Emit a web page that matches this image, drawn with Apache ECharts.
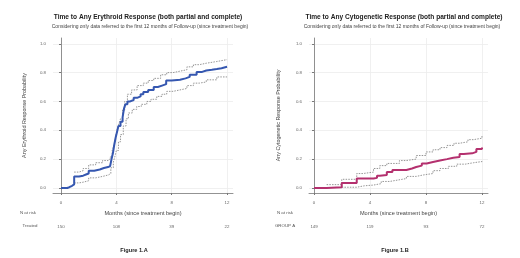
<!DOCTYPE html>
<html>
<head>
<meta charset="utf-8">
<script src="https://cdn.jsdelivr.net/npm/echarts@6/dist/echarts.min.js"></script>
<style>
  html, body { margin: 0; padding: 0; background: #fff; }
  #main { width: 520px; height: 258px; }
</style>
</head>
<body>
<div id="main"></div>
<script>
var chartDom = document.getElementById('main');
var myChart = echarts.init(chartDom);

var monthTicks = [0, 4, 8, 12];
var probTicks = [0, 0.2, 0.4, 0.6, 0.8, 1.0];

// Figure 1.A - erythroid response (months, probability)
var eryMain = [[0, 0], [0.45, 0.005], [0.6, 0.015], [0.8, 0.025], [0.95, 0.08], [1.3, 0.085], [1.6, 0.095], [1.85, 0.1], [2.0, 0.12], [2.4, 0.128], [2.8, 0.138], [3.1, 0.145], [3.4, 0.152], [3.55, 0.16], [3.65, 0.2], [3.75, 0.24], [3.85, 0.3], [3.95, 0.35], [4.05, 0.39], [4.15, 0.43], [4.3, 0.46], [4.45, 0.49], [4.55, 0.55], [4.65, 0.58], [4.8, 0.6], [5.0, 0.61], [5.25, 0.625], [5.5, 0.635], [5.75, 0.65], [5.95, 0.665], [6.3, 0.68], [6.7, 0.7], [7.0, 0.71], [7.3, 0.72], [7.6, 0.745], [8.0, 0.75], [8.6, 0.76], [9.0, 0.77], [9.3, 0.785], [9.8, 0.805], [10.2, 0.815], [10.5, 0.82], [10.9, 0.825], [11.26, 0.83], [11.6, 0.84], [12, 0.84]];
var eryUpper = [[0.95, 0.11], [1.3, 0.12], [1.6, 0.135], [2.0, 0.16], [2.5, 0.175], [3.0, 0.19], [3.4, 0.2], [3.55, 0.215], [3.7, 0.26], [3.8, 0.29], [3.9, 0.33], [4.0, 0.38], [4.1, 0.42], [4.2, 0.45], [4.3, 0.48], [4.45, 0.54], [4.6, 0.6], [4.8, 0.65], [5.1, 0.68], [5.5, 0.71], [5.95, 0.727], [6.3, 0.745], [6.7, 0.76], [7.2, 0.785], [7.64, 0.8], [8.1, 0.81], [8.6, 0.82], [9.1, 0.84], [9.57, 0.855], [10.0, 0.865], [10.5, 0.877], [11.26, 0.89], [12, 0.893]];
var eryLower = [[0.95, 0.035], [1.3, 0.04], [1.6, 0.05], [2.0, 0.07], [2.5, 0.08], [3.0, 0.09], [3.42, 0.1], [3.6, 0.14], [3.78, 0.18], [3.9, 0.22], [4.0, 0.26], [4.15, 0.32], [4.3, 0.37], [4.5, 0.43], [4.7, 0.48], [4.87, 0.52], [5.15, 0.545], [5.47, 0.565], [5.8, 0.58], [6.2, 0.6], [6.5, 0.615], [6.92, 0.635], [7.3, 0.65], [7.64, 0.67], [8.1, 0.68], [8.6, 0.69], [9.1, 0.71], [9.57, 0.727], [10.0, 0.735], [10.5, 0.75], [11.26, 0.77], [12, 0.77]];
var eryAtRisk = ['150', '108', '39', '22'];

// Figure 1.B - cytogenetic response
var cytoMain = [[0, 0], [0.9, 0.005], [1.98, 0.035], [3.05, 0.065], [4.25, 0.07], [4.5, 0.085], [4.7, 0.09], [5.2, 0.11], [5.6, 0.125], [6.6, 0.135], [7.0, 0.145], [7.3, 0.155], [7.7, 0.17], [8.05, 0.18], [8.5, 0.19], [9.0, 0.2], [9.5, 0.21], [9.95, 0.215], [10.4, 0.235], [10.7, 0.24], [11.3, 0.25], [11.6, 0.27], [12, 0.28]];
var cytoUpper = [[0.9, 0.023], [1.98, 0.06], [3.05, 0.1], [3.5, 0.11], [4.25, 0.135], [4.7, 0.155], [5.2, 0.17], [6.1, 0.19], [6.6, 0.2], [7.3, 0.225], [8.0, 0.25], [8.5, 0.265], [9.0, 0.28], [9.5, 0.295], [10.0, 0.31], [10.4, 0.32], [11.0, 0.335], [11.4, 0.345], [12, 0.36]];
var cytoLower = [[1.98, 0.005], [3.05, 0.015], [3.6, 0.02], [4.25, 0.03], [4.8, 0.045], [5.4, 0.055], [6.0, 0.065], [6.6, 0.08], [7.3, 0.09], [7.8, 0.1], [8.5, 0.12], [9.0, 0.135], [9.6, 0.15], [10.2, 0.165], [10.8, 0.175], [11.4, 0.183], [12, 0.19]];
var cytoAtRisk = ['149', '119', '93', '72'];

var FONT = 'Liberation Sans, Arial, sans-serif';
var gridColor = '#ececec';

function xAxisFor(gridIndex, min) {
  return {
    type: 'value',
    gridIndex: gridIndex,
    min: min,
    max: 12.43,
    name: 'Months (since treatment begin)',
    nameLocation: 'middle',
    nameGap: 17,
    nameTextStyle: { fontFamily: FONT, fontSize: 5.6, color: '#444' },
    axisLine: { onZero: false, lineStyle: { color: '#777', width: 0.8 } },
    axisTick: { customValues: monthTicks, length: 2, lineStyle: { color: '#777' } },
    axisLabel: { customValues: monthTicks, fontFamily: FONT, fontSize: 4.4, color: '#666', margin: 8 },
    splitLine: { show: true, lineStyle: { color: gridColor, width: 0.8 } }
  };
}

function riskAxisFor(gridIndex, min, labels) {
  return {
    type: 'value',
    gridIndex: gridIndex,
    position: 'bottom',
    offset: 24,
    min: min,
    max: 12.43,
    axisLine: { show: false },
    axisTick: { show: false },
    splitLine: { show: false },
    axisLabel: {
      customValues: monthTicks,
      fontFamily: FONT, fontSize: 4.4, color: '#666',
      formatter: function (v) { return labels[monthTicks.indexOf(v)]; }
    }
  };
}

function yAxisFor(gridIndex, name, gap) {
  return {
    type: 'value',
    gridIndex: gridIndex,
    min: -0.035,
    max: 1.04,
    name: name,
    nameLocation: 'middle',
    nameGap: gap,
    nameTextStyle: { fontFamily: FONT, fontSize: 5.4, color: '#444' },
    axisLine: { show: true, lineStyle: { color: '#777', width: 0.8 } },
    axisTick: { show: true, customValues: probTicks, length: 2, lineStyle: { color: '#777' } },
    axisLabel: {
      customValues: probTicks, fontFamily: FONT, fontSize: 4.4, color: '#666', margin: 7,
      formatter: function (v) { return v.toFixed(1); }
    },
    splitLine: { show: true, lineStyle: { color: gridColor, width: 0.8 } }
  };
}

function curve(data, xi, color, width) {
  return {
    type: 'line', step: 'end', xAxisIndex: xi, yAxisIndex: xi,
    data: data, symbol: 'none', silent: true, animation: false,
    lineStyle: { color: color, width: width }
  };
}
function ci(data, xi) {
  return {
    type: 'line', step: 'end', xAxisIndex: xi, yAxisIndex: xi,
    data: data, symbol: 'none', silent: true, animation: false,
    lineStyle: { color: '#8a8a8a', width: 0.9, type: [1.5, 1.2] }
  };
}

function txt(text, x, y, size, bold, color) {
  return {
    type: 'text', x: x, y: y, silent: true,
    style: {
      text: text, align: 'center', verticalAlign: 'middle',
      font: (bold ? 'bold ' : '') + size + 'px ' + FONT,
      fill: color || '#222'
    }
  };
}

option = {
  backgroundColor: '#fff',
  animation: false,
  grid: [
    { left: 53, top: 38, width: 180, height: 155 },
    { left: 309, top: 38, width: 179, height: 155 }
  ],
  xAxis: [
    xAxisFor(0, -0.58),
    xAxisFor(1, -0.36),
    riskAxisFor(0, -0.58, eryAtRisk),
    riskAxisFor(1, -0.36, cytoAtRisk)
  ],
  yAxis: [
    yAxisFor(0, 'Any Erythroid Response Probability', 26),
    yAxisFor(1, 'Any Cytogenetic Response Probability', 28)
  ],
  graphic: [
    txt('Time to Any Erythroid Response (both partial and complete)', 148, 17, 6.6, true, '#222'),
    txt('Considering only data referred to the first 12 months of Follow-up (since treatment begin)', 150, 27, 5, false, '#444'),
    txt('Time to Any Cytogenetic Response (both partial and complete)', 404, 17, 6.6, true, '#222'),
    txt('Considering only data referred to the first 12 months of Follow-up (since treatment begin)', 402, 27, 5, false, '#444'),
    txt('N at risk', 28, 213, 4.4, false, '#555'),
    txt('Treated', 30, 226, 4.4, false, '#555'),
    txt('N at risk', 285, 213, 4.4, false, '#555'),
    txt('GROUP A', 285, 226, 4.4, false, '#555'),
    txt('Figure 1.A', 134, 250, 5.6, true, '#222'),
    txt('Figure 1.B', 395, 250, 5.6, true, '#222')
  ],
  series: [
    ci(eryUpper, 0),
    ci(eryLower, 0),
    curve(eryMain, 0, '#3557b0', 2),
    ci(cytoUpper, 1),
    ci(cytoLower, 1),
    curve(cytoMain, 1, '#b4306e', 2)
  ]
};

if (option && typeof option === "object") {
  myChart.setOption(option, true);
}
</script>
</body>
</html>
